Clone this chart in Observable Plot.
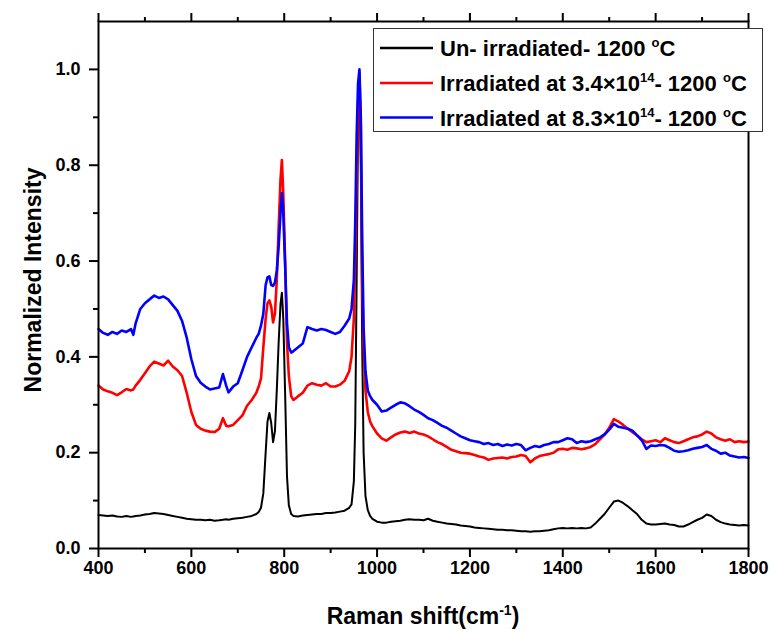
<!DOCTYPE html>
<html>
<head>
<meta charset="utf-8">
<script src="https://cdn.jsdelivr.net/npm/d3@7"></script>
<script src="https://cdn.jsdelivr.net/npm/@observablehq/plot@0.6"></script>
<style>
  html, body { margin: 0; padding: 0; background: #fff; }
  #chart { position: relative; width: 772px; height: 636px; }
</style>
</head>
<body>
<div id="chart"></div>
<script>
// Raman shift (cm-1) sample positions
const shift = [400,410,420,430,440,450,460,470,475,480,490,500,510,520,530,540,550,560,570,580,590,600,610,620,630,640,650,660,668,675,680,690,700,710,720,730,740,745,750,755,760,764,768,772,776,780,784,788,792,795,798,802,806,810,815,820,830,840,850,860,870,880,890,900,910,920,930,940,945,950,953,956,959,962,965,968,971,975,980,985,990,1000,1010,1020,1030,1040,1050,1060,1070,1080,1090,1100,1110,1120,1130,1140,1150,1160,1170,1180,1190,1200,1210,1220,1230,1240,1250,1260,1270,1280,1290,1300,1310,1320,1330,1340,1350,1360,1370,1380,1390,1400,1410,1420,1430,1440,1450,1460,1470,1480,1490,1500,1510,1520,1530,1540,1550,1560,1570,1580,1590,1600,1610,1620,1630,1640,1650,1660,1670,1680,1690,1700,1710,1720,1730,1740,1750,1760,1770,1780,1790,1800];

// Un-irradiated - 1200 °C
const unIrradiated = [.070,.069,.068,.069,.067,.066,.068,.066,.067,.068,.069,.071,.072,.074,.073,.072,.070,.068,.066,.064,.062,.061,.060,.060,.059,.060,.058,.059,.060,.061,.060,.062,.063,.064,.066,.068,.072,.076,.085,.115,.200,.265,.283,.262,.222,.245,.330,.430,.510,.534,.480,.322,.150,.090,.072,.068,.067,.069,.070,.071,.072,.072,.074,.074,.075,.077,.079,.085,.092,.140,.260,.560,.880,.995,.800,.420,.200,.110,.080,.068,.062,.056,.054,.054,.056,.057,.058,.060,.061,.060,.060,.059,.062,.058,.056,.054,.052,.051,.050,.048,.047,.046,.044,.043,.042,.041,.040,.039,.039,.038,.038,.037,.036,.036,.035,.036,.036,.037,.038,.040,.042,.043,.042,.043,.042,.043,.042,.044,.052,.062,.072,.085,.098,.100,.095,.088,.080,.072,.060,.052,.050,.050,.051,.052,.050,.049,.046,.046,.050,.055,.060,.064,.071,.068,.060,.055,.052,.050,.049,.048,.049,.048];

// Irradiated at 3.4x10^14 - 1200 °C
const irr34 = [.340,.332,.328,.325,.320,.326,.333,.330,.332,.340,.352,.366,.380,.390,.386,.382,.392,.380,.372,.360,.325,.285,.258,.250,.246,.244,.243,.250,.272,.256,.255,.258,.268,.278,.298,.310,.325,.338,.355,.420,.480,.512,.518,.505,.472,.490,.560,.670,.770,.811,.740,.600,.430,.360,.318,.310,.318,.325,.340,.345,.342,.340,.345,.338,.338,.342,.350,.370,.400,.480,.600,.780,.930,.990,.880,.560,.420,.330,.285,.265,.255,.240,.230,.225,.232,.238,.242,.244,.241,.244,.240,.238,.234,.228,.222,.218,.212,.206,.203,.200,.199,.198,.195,.192,.190,.185,.188,.189,.190,.188,.191,.192,.195,.193,.180,.188,.193,.195,.197,.200,.207,.208,.206,.210,.209,.207,.209,.212,.218,.228,.238,.252,.270,.265,.258,.250,.243,.236,.228,.222,.224,.226,.222,.230,.226,.222,.220,.224,.228,.232,.234,.238,.244,.240,.232,.228,.225,.228,.222,.224,.222,.223];

// Irradiated at 8.3x10^14 - 1200 °C
const irr83 = [.458,.450,.446,.452,.448,.455,.452,.458,.446,.470,.500,.512,.520,.528,.523,.526,.520,.508,.496,.475,.440,.395,.360,.346,.338,.332,.334,.336,.364,.340,.326,.338,.345,.372,.400,.420,.440,.448,.465,.490,.550,.566,.568,.550,.548,.555,.580,.630,.700,.742,.700,.590,.470,.420,.409,.412,.420,.428,.462,.458,.455,.458,.456,.452,.448,.452,.465,.480,.500,.560,.680,.860,.970,1.000,.900,.640,.460,.370,.330,.318,.310,.300,.286,.288,.294,.300,.305,.303,.297,.290,.285,.279,.272,.268,.262,.256,.252,.246,.240,.234,.230,.226,.224,.222,.218,.220,.216,.218,.214,.217,.215,.218,.216,.205,.210,.214,.212,.216,.218,.222,.222,.226,.230,.228,.220,.224,.222,.224,.228,.232,.238,.248,.260,.254,.252,.250,.246,.236,.226,.208,.215,.214,.216,.215,.210,.204,.202,.203,.205,.208,.210,.212,.216,.208,.204,.198,.200,.194,.192,.190,.191,.189];

const xMajor = [400,600,800,1000,1200,1400,1600,1800];
const xMinor = [500,700,900,1100,1300,1500,1700];
const yMajor = [0,0.2,0.4,0.6,0.8,1.0];
const yMinor = [0.1,0.3,0.5,0.7,0.9];

const seriesNames = ["Un- irradiated- 1200 ", "Irradiated at 3.4\u00d710", "Irradiated at 8.3\u00d710"];
const seriesColors = ["#000000", "#ff0000", "#0000ff"];

const toRows = ys => shift.map((x, i) => ({x, y: ys[i]}));

const font = "'Liberation Sans', Arial, sans-serif";

const plot = Plot.plot({
  width: 772,
  height: 636,
  marginLeft: 98,
  marginRight: 24,
  marginTop: 21,
  marginBottom: 88,
  x: {domain: [400, 1800]},
  y: {domain: [0, 1.1]},
  style: {fontFamily: font, fontWeight: "bold", fontSize: "18px", color: "#000", background: "#fff"},
  marks: [
    Plot.line(toRows(unIrradiated), {x: "x", y: "y", stroke: seriesColors[0], strokeWidth: 2}),
    Plot.line(toRows(irr34), {x: "x", y: "y", stroke: seriesColors[1], strokeWidth: 2.6}),
    Plot.line(toRows(irr83), {x: "x", y: "y", stroke: seriesColors[2], strokeWidth: 2.6}),
    Plot.axisX({ticks: xMajor, tickSize: 9, tickPadding: 4, tickFormat: d => String(d), label: null, strokeWidth: 2}),
    Plot.axisX({ticks: xMinor, tickSize: 5, tickFormat: () => "", label: null, strokeWidth: 2}),
    Plot.axisX({anchor: "top", ticks: xMajor, tickSize: 9, tickFormat: () => "", label: null, strokeWidth: 2}),
    Plot.axisX({anchor: "top", ticks: xMinor, tickSize: 5, tickFormat: () => "", label: null, strokeWidth: 2}),
    Plot.axisY({ticks: yMajor, tickSize: 9, tickPadding: 9, tickFormat: d3.format(".1f"), label: null, strokeWidth: 2}),
    Plot.axisY({ticks: yMinor, tickSize: 5, tickFormat: () => "", label: null, strokeWidth: 2}),
    Plot.frame({stroke: "#000", strokeWidth: 2})
  ]
});

document.getElementById("chart").appendChild(plot);

const svg = d3.select(plot);

// Axis titles
const xt = svg.append("text")
  .attr("x", 423).attr("y", 624)
  .attr("text-anchor", "middle")
  .style("font-family", font).style("font-weight", "bold").style("font-size", "23px").attr("fill", "#000");
xt.append("tspan").text("Raman shift(cm");
xt.append("tspan").attr("dy", -9).style("font-size", "14px").text("-1");
xt.append("tspan").attr("dy", 9).text(")");

svg.append("text")
  .attr("transform", "translate(41,280) rotate(-90)")
  .attr("text-anchor", "middle")
  .style("font-family", font).style("font-weight", "bold").style("font-size", "23px").attr("fill", "#000")
  .text("Normalized Intensity");

// Legend
const lg = svg.append("g").attr("text-anchor", "start");
lg.append("rect").attr("x", 373.5).attr("y", 28.5).attr("width", 389).attr("height", 103)
  .attr("fill", "#fff").attr("stroke", "#333").attr("stroke-width", 1);
const rowsY = [48, 83, 117.5];
seriesNames.forEach((name, i) => {
  lg.append("line").attr("x1", 380).attr("x2", 433).attr("y1", rowsY[i]).attr("y2", rowsY[i])
    .attr("stroke", seriesColors[i]).attr("stroke-width", 2.6);
  const t = lg.append("text").attr("x", 440).attr("y", rowsY[i] + 8)
    .attr("text-anchor", "start")
    .style("font-family", font).style("font-weight", "bold").style("font-size", "22px").attr("fill", "#000");
  if (i === 0) {
    t.append("tspan").text(name);
  } else {
    t.append("tspan").text(name);
    t.append("tspan").attr("dy", -9).style("font-size", "13px").text("14");
    t.append("tspan").attr("dy", 9).text("- 1200 ");
  }
  t.append("tspan").attr("dy", -9).style("font-size", "13px").text("o");
  t.append("tspan").attr("dy", 9).text("C");
});
</script>
</body>
</html>
